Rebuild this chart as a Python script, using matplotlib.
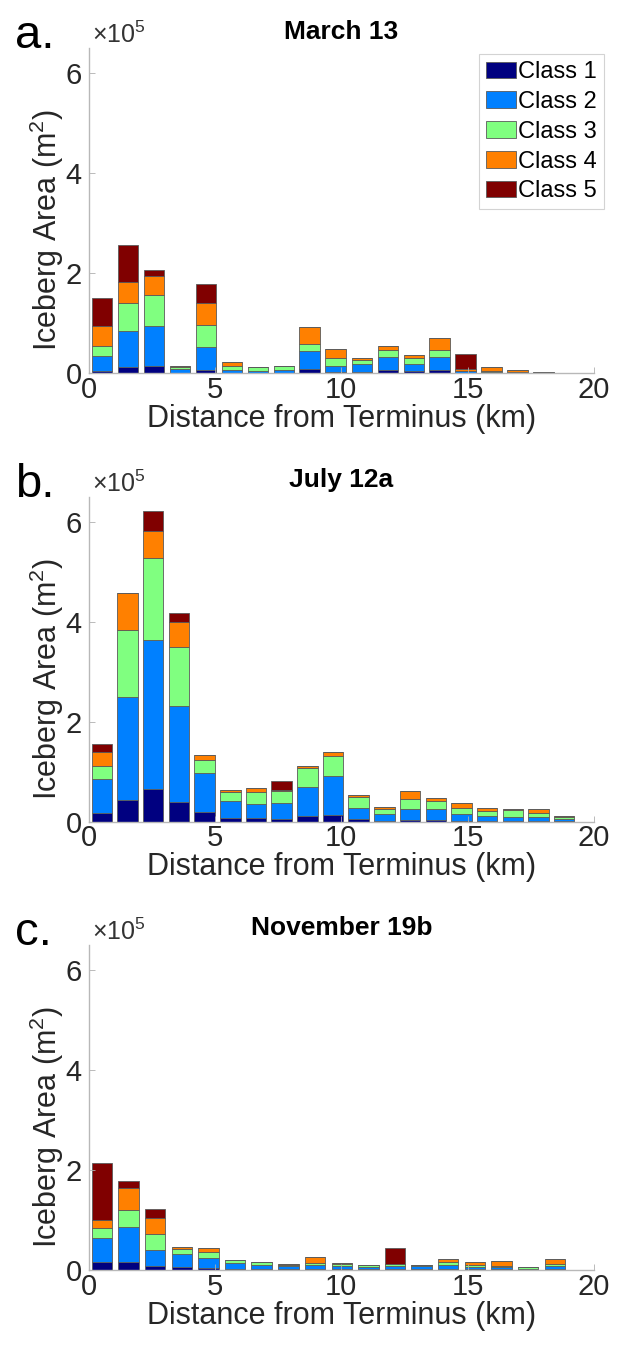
import numpy as np
import matplotlib
matplotlib.use('Agg')
from matplotlib import pyplot as plt

plt.rcParams['font.family'] = ['Liberation Sans', 'DejaVu Sans']
plt.rcParams['mathtext.fontset'] = 'custom'
plt.rcParams['mathtext.rm'] = 'Liberation Sans'

# iceberg area per distance bin, in units of 1e5 m^2
titles = ['March 13', 'July 12a', 'November 19b']
letters = ['a.', 'b.', 'c.']
class_names = ['Class 1', 'Class 2', 'Class 3', 'Class 4', 'Class 5']
class_colors = ['#000080', '#0080ff', '#80ff80', '#ff8000', '#800000']

# bin centres (km)
dist_a = [0.53, 1.56, 2.59, 3.61, 4.64, 5.67, 6.70, 7.73, 8.75, 9.78, 10.81,
          11.84, 12.87, 13.89, 14.92, 15.95, 16.98, 18.01]
dist_b = [0.53, 1.55, 2.56, 3.58, 4.59, 5.61, 6.63, 7.64, 8.66, 9.67, 10.69,
          11.71, 12.72, 13.74, 14.75, 15.77, 16.79, 17.80, 18.82]
dist_c = [0.53, 1.58, 2.64, 3.69, 4.75, 5.80, 6.85, 7.91, 8.96, 10.02, 11.07,
          12.12, 13.18, 14.23, 15.29, 16.34, 17.39, 18.45]

a_c1 = [0.05, 0.12, 0.15, 0.01, 0.07, 0.01, 0.01, 0.01, 0.08, 0.02, 0.02, 0.06, 0.04, 0.07, 0.01, 0.005, 0.005, 0.003]
a_c2 = [0.30, 0.73, 0.80, 0.07, 0.46, 0.06, 0.04, 0.06, 0.37, 0.13, 0.17, 0.26, 0.15, 0.26, 0.03, 0.03, 0.01, 0.01]
a_c3 = [0.20, 0.55, 0.62, 0.04, 0.44, 0.08, 0.07, 0.08, 0.14, 0.16, 0.07, 0.15, 0.12, 0.14, 0.01, 0.005, 0.02, 0.02]
a_c4 = [0.40, 0.43, 0.38, 0.03, 0.44, 0.08, 0.005, 0.005, 0.34, 0.17, 0.04, 0.07, 0.06, 0.23, 0.04, 0.08, 0.03, 0.0]
a_c5 = [0.55, 0.73, 0.12, 0.0, 0.38, 0.0, 0.0, 0.0, 0.0, 0.0, 0.01, 0.0, 0.0, 0.0, 0.29, 0.0, 0.0, 0.0]

b_c1 = [0.17, 0.43, 0.65, 0.39, 0.19, 0.08, 0.07, 0.06, 0.12, 0.14, 0.05, 0.02, 0.03, 0.04, 0.02, 0.01, 0.01, 0.01, 0.005]
b_c2 = [0.68, 2.07, 2.98, 1.93, 0.79, 0.33, 0.29, 0.32, 0.57, 0.78, 0.23, 0.13, 0.22, 0.22, 0.14, 0.10, 0.08, 0.08, 0.045]
b_c3 = [0.27, 1.33, 1.64, 1.18, 0.26, 0.18, 0.24, 0.24, 0.38, 0.40, 0.21, 0.11, 0.20, 0.16, 0.12, 0.10, 0.14, 0.08, 0.04]
b_c4 = [0.27, 0.74, 0.55, 0.49, 0.10, 0.04, 0.07, 0.01, 0.05, 0.07, 0.05, 0.03, 0.17, 0.05, 0.09, 0.06, 0.02, 0.08, 0.02]
b_c5 = [0.17, 0.0, 0.40, 0.18, 0.0, 0.0, 0.0, 0.18, 0.0, 0.0, 0.0, 0.0, 0.0, 0.0, 0.0, 0.0, 0.0, 0.0, 0.0]

c_c1 = [0.15, 0.16, 0.07, 0.05, 0.04, 0.02, 0.01, 0.01, 0.01, 0.01, 0.01, 0.01, 0.01, 0.01, 0.01, 0.01, 0.005, 0.01]
c_c2 = [0.49, 0.69, 0.33, 0.26, 0.20, 0.11, 0.09, 0.06, 0.08, 0.07, 0.05, 0.06, 0.06, 0.08, 0.05, 0.04, 0.02, 0.06]
c_c3 = [0.19, 0.35, 0.31, 0.11, 0.11, 0.06, 0.05, 0.03, 0.05, 0.04, 0.03, 0.04, 0.02, 0.07, 0.03, 0.02, 0.025, 0.04]
c_c4 = [0.16, 0.44, 0.32, 0.03, 0.08, 0.0, 0.0, 0.02, 0.11, 0.02, 0.0, 0.01, 0.0, 0.06, 0.07, 0.10, 0.0, 0.11]
c_c5 = [1.14, 0.13, 0.18, 0.0, 0.0, 0.0, 0.0, 0.0, 0.0, 0.0, 0.0, 0.32, 0.0, 0.0, 0.0, 0.0, 0.0, 0.0]

x_ticks = [0, 5, 10, 15, 20]
y_ticks = [0, 2, 4, 6]


def draw_panel(ax, dist, classes, title, letter, legend=False):
    bottom = np.zeros(len(dist))
    for vals, col, name in zip(classes, class_colors, class_names):
        vals = np.array(vals)
        ax.bar(dist, vals, width=0.81, bottom=bottom, color=col,
               edgecolor='#5a5a5a', linewidth=0.6, label=name)
        bottom = bottom + vals

    ax.set_xlim(0, 20)
    ax.set_ylim(0, 6.5)
    ax.set_xticks(x_ticks)
    ax.set_yticks(y_ticks)
    ax.tick_params(direction='in', length=4, width=0.6, colors='#b0b0b0',
                   labelcolor='#262626', labelsize=21)
    ax.tick_params(axis='x', pad=2)
    ax.tick_params(axis='y', pad=5)
    for s in ['top', 'right']:
        ax.spines[s].set_visible(False)
    for s in ['left', 'bottom']:
        ax.spines[s].set_color('#b8b8b8')
        ax.spines[s].set_linewidth(1.0)

    ax.set_title(title, fontsize=19, fontweight='bold', pad=7)
    ax.set_xlabel('Distance from Terminus (km)', fontsize=22, color='#262626', labelpad=0)
    ax.set_ylabel('Iceberg Area (m$^2$)', fontsize=22, color='#262626')
    ax.yaxis.set_label_coords(-0.045, 0.44)
    ax.text(0.006, 1.015, r'$\times$10$^5$', transform=ax.transAxes,
            fontsize=18, color='#333333', ha='left', va='baseline')
    # panel letter at the top left corner of the axes
    ax.text(-0.146, 1.0, letter, transform=ax.transAxes, fontsize=34,
            ha='left', va='baseline')

    if legend:
        leg = ax.legend(loc='upper right', bbox_to_anchor=(1.02, 0.982),
                        fontsize=17, frameon=True, fancybox=False,
                        handlelength=1.25, handleheight=0.7, handletextpad=0.1,
                        labelspacing=0.33, borderpad=0.3, borderaxespad=0)
        leg.get_frame().set_edgecolor('#c8c8c8')
        leg.get_frame().set_linewidth(0.8)


def main():
    fig = plt.figure(figsize=(6.3, 13.47), dpi=100)
    left, width, height = 0.1405, 0.8024, 0.2413
    bottoms = [0.7229, 0.39, 0.0572]
    dists = [dist_a, dist_b, dist_c]
    data = [[a_c1, a_c2, a_c3, a_c4, a_c5],
            [b_c1, b_c2, b_c3, b_c4, b_c5],
            [c_c1, c_c2, c_c3, c_c4, c_c5]]
    for i in range(3):
        ax = fig.add_axes([left, bottoms[i], width, height])
        draw_panel(ax, dists[i], data[i], titles[i], letters[i], legend=(i == 0))

    fig.savefig('out.png', dpi=100, facecolor='white')


if __name__ == "__main__":
    main()
